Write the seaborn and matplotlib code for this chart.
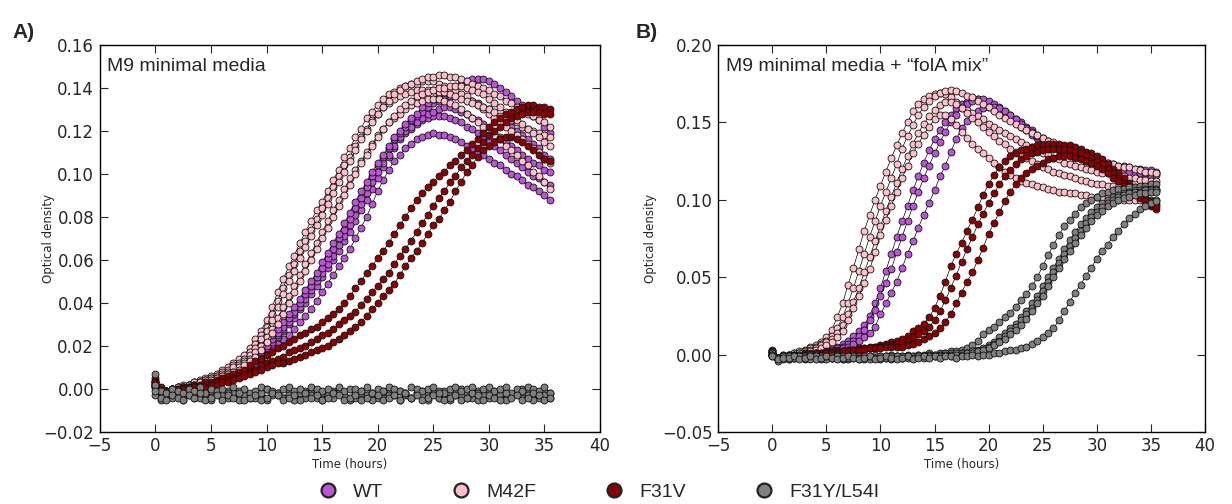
import numpy as np
import pandas as pd
import matplotlib
matplotlib.use("Agg")
import matplotlib.pyplot as plt
from matplotlib.lines import Line2D
import seaborn as sns

# ---------------- data (optical density in units of 0.001, read every 0.5 h) ----------------
hours = [i / 2 for i in range(72)]
strains = ["WT", "M42F", "F31V", "F31Y/L54I"]
colors = ["mediumorchid", "pink", "darkred", "gray"]

# Panel A: M9 minimal media
a_wt_1 = [3, -1, -2, -1, 0, 0, 1, 1, 1, 2, 2, 3,
          4, 5, 6, 7, 8, 10, 12, 14, 16, 18, 21, 23,
          25, 28, 31, 34, 37, 41, 45, 49, 53, 57, 61, 65,
          70, 75, 80, 86, 92, 97, 102, 106, 109, 112, 114, 116,
          117, 118, 119, 118, 118, 117, 116, 115, 113, 112, 110, 109,
          107, 105, 104, 102, 100, 99, 97, 95, 94, 92, 90, 88]
a_wt_2 = [2, 0, -1, 0, 0, 1, 1, 2, 2, 3, 3, 4,
          5, 6, 7, 8, 10, 12, 14, 16, 19, 21, 24, 27,
          30, 33, 37, 40, 44, 48, 52, 56, 60, 64, 69, 73,
          78, 83, 88, 93, 98, 103, 108, 112, 116, 119, 121, 123,
          125, 126, 127, 127, 127, 126, 125, 124, 122, 121, 119, 117,
          115, 113, 111, 109, 107, 105, 103, 101, 99, 98, 96, 95]
a_wt_3 = [1, -1, -2, -1, 0, 0, 1, 1, 2, 2, 3, 3,
          4, 6, 7, 9, 11, 13, 15, 18, 20, 23, 26, 29,
          33, 36, 40, 44, 48, 52, 56, 61, 65, 70, 74, 79,
          84, 89, 94, 99, 104, 108, 112, 116, 119, 122, 125, 127,
          129, 131, 133, 134, 135, 136, 136, 136, 135, 134, 133, 131,
          130, 128, 126, 124, 122, 120, 118, 116, 114, 112, 109, 107]
a_wt_4 = [2, 0, -1, 0, 1, 1, 2, 2, 3, 3, 4, 4,
          5, 7, 8, 10, 12, 14, 17, 19, 22, 25, 28, 31,
          35, 38, 42, 46, 50, 54, 59, 63, 68, 72, 77, 82,
          87, 92, 96, 101, 105, 109, 113, 117, 120, 123, 126, 128,
          131, 133, 135, 137, 139, 140, 141, 142, 143, 144, 144, 144,
          143, 142, 140, 138, 136, 134, 132, 130, 127, 125, 122, 119]
a_wt_5 = [2, -1, -1, 0, 0, 1, 1, 1, 2, 3, 3, 4,
          5, 6, 7, 8, 10, 12, 14, 17, 19, 22, 25, 28,
          31, 35, 38, 42, 46, 50, 54, 58, 62, 67, 71, 76,
          81, 86, 91, 96, 101, 105, 109, 113, 117, 120, 122, 124,
          126, 128, 129, 130, 131, 131, 130, 129, 128, 126, 125, 123,
          121, 119, 117, 115, 113, 111, 109, 107, 105, 104, 102, 101]

a_m42f_1 = [4, 0, -1, 0, 1, 2, 2, 3, 4, 5, 6, 7,
            9, 10, 12, 14, 16, 19, 23, 27, 32, 38, 45, 51,
            57, 62, 68, 73, 78, 83, 87, 92, 97, 102, 108, 112,
            117, 121, 126, 129, 132, 135, 137, 138, 140, 141, 142, 142,
            143, 143, 143, 142, 141, 140, 139, 137, 136, 134, 132, 130,
            128, 126, 124, 122, 120, 118, 116, 114, 112, 110, 107, 105]
a_m42f_2 = [3, -1, -2, 0, 0, 1, 2, 3, 3, 4, 5, 6,
            7, 8, 10, 11, 13, 16, 19, 23, 27, 32, 38, 44,
            50, 55, 61, 66, 71, 76, 81, 86, 91, 96, 101, 106,
            111, 116, 120, 124, 128, 131, 134, 137, 139, 141, 142, 143,
            144, 145, 145, 146, 146, 145, 145, 144, 143, 142, 141, 140,
            139, 137, 136, 134, 133, 131, 130, 128, 127, 125, 124, 122]
a_m42f_3 = [2, -2, -1, 0, 1, 1, 2, 2, 3, 4, 4, 5,
            6, 7, 8, 10, 12, 14, 17, 20, 24, 28, 33, 38,
            43, 48, 53, 58, 63, 68, 73, 78, 83, 88, 93, 98,
            102, 106, 110, 114, 118, 121, 124, 126, 128, 130, 132, 133,
            134, 135, 135, 135, 134, 133, 132, 130, 128, 126, 124, 122,
            120, 118, 116, 113, 111, 109, 106, 104, 101, 99, 96, 93]
a_m42f_4 = [1, -2, -2, -1, 0, 1, 1, 2, 3, 3, 4, 5,
            6, 7, 8, 9, 11, 13, 15, 18, 22, 26, 30, 35,
            40, 45, 50, 55, 60, 65, 70, 75, 80, 85, 90, 95,
            100, 105, 109, 113, 117, 121, 124, 127, 130, 132, 134, 136,
            137, 138, 139, 140, 140, 141, 141, 141, 140, 139, 138, 137,
            135, 133, 131, 129, 127, 125, 123, 121, 119, 117, 115, 113]
a_m42f_5 = [3, 0, -1, 0, 1, 1, 2, 3, 3, 4, 5, 6,
            8, 9, 11, 12, 14, 17, 21, 25, 29, 35, 41, 47,
            53, 58, 64, 69, 74, 79, 84, 89, 94, 99, 104, 108,
            113, 117, 121, 125, 128, 131, 133, 135, 136, 137, 138, 139,
            139, 139, 139, 138, 138, 137, 136, 135, 134, 133, 132, 131,
            130, 129, 127, 126, 125, 124, 122, 121, 120, 119, 118, 117]

a_f31v_1 = [5, 1, -1, 0, 0, 1, 1, 2, 2, 3, 3, 4,
            5, 6, 7, 8, 9, 11, 13, 14, 16, 17, 19, 20,
            22, 23, 25, 26, 28, 29, 31, 33, 35, 37, 40, 43,
            47, 50, 54, 57, 61, 64, 68, 72, 76, 80, 84, 88,
            91, 94, 96, 99, 101, 104, 106, 109, 111, 114, 116, 119,
            122, 124, 126, 128, 129, 130, 131, 132, 132, 131, 131, 130]
a_f31v_2 = [3, -1, -2, -1, 0, 0, 1, 1, 1, 2, 2, 3,
            3, 4, 5, 6, 7, 8, 9, 11, 12, 13, 14, 15,
            17, 18, 19, 20, 22, 23, 25, 26, 28, 30, 32, 34,
            36, 39, 42, 45, 48, 51, 54, 58, 62, 65, 69, 73,
            77, 81, 85, 89, 92, 96, 99, 103, 106, 109, 112, 115,
            118, 120, 122, 124, 126, 127, 128, 129, 129, 129, 128, 128]
a_f31v_3 = [1, -2, -2, -1, -1, 0, 0, 1, 1, 1, 2, 2,
            3, 3, 4, 5, 6, 7, 8, 9, 10, 11, 12, 12,
            13, 14, 15, 16, 17, 18, 19, 20, 22, 23, 25, 27,
            29, 31, 34, 37, 40, 43, 46, 49, 53, 57, 61, 64,
            68, 72, 76, 79, 83, 87, 92, 96, 101, 104, 108, 111,
            113, 115, 116, 117, 117, 116, 115, 113, 111, 109, 107, 106]

a_f31y_1 = [7, -2, -4, -3, -2, -3, -1, -4, -2, -3, -1, -2,
            -4, -1, -3, -2, -1, -4, -2, -3, 0, -2, -3, -4,
            -1, -2, -3, -1, -2, -4, -2, -3, -1, 0, -3, -4,
            -2, -1, -3, -2, -4, -1, -2, -3, -1, -2, -4, -2,
            -1, -3, -2, -4, -1, -2, -3, 0, -2, -4, -1, -3,
            -2, -1, -4, -2, -3, -1, 0, -2, -3, -4, -1, -2]
a_f31y_2 = [-3, -5, -3, -4, -2, -5, -3, -2, -4, -3, -5, -2,
            -3, -4, -2, -5, -3, -3, -4, -2, -5, -3, -2, -4,
            -3, -5, -2, -4, -3, -2, -5, -3, -4, -2, -3, -5,
            -4, -2, -3, -5, -2, -4, -3, -2, -5, -3, -4, -2,
            -3, -5, -2, -4, -3, -5, -2, -3, -4, -2, -5, -3,
            -4, -2, -3, -5, -3, -2, -4, -3, -5, -2, -3, -4]
a_f31y_3 = [2, -1, -2, 0, -1, -2, 0, -1, 1, -2, 0, -1,
            0, -2, 1, -1, 0, -2, -1, 1, 0, -1, -2, 0,
            1, -1, 0, -2, 1, 0, -1, 0, -2, 1, -1, 0,
            0, -1, 1, -2, 0, -1, 1, 0, -1, -2, 1, 0,
            -1, 0, 1, -1, -2, 0, 1, -1, 0, 1, -2, 0,
            1, -1, 0, 1, -2, 0, -1, 1, 0, -1, 1, -2]
a_f31y_4 = [-1, -4, -5, -3, -4, -5, -3, -4, -2, -5, -4, -3,
            -5, -3, -4, -2, -5, -4, -3, -5, -4, -2, -3, -5,
            -4, -3, -5, -2, -4, -3, -5, -4, -2, -3, -5, -4,
            -3, -5, -4, -2, -3, -5, -4, -3, -5, -2, -4, -3,
            -5, -4, -3, -2, -5, -4, -3, -5, -4, -2, -3, -5,
            -3, -4, -5, -2, -4, -3, -5, -4, -2, -3, -5, -4]

# Panel B: M9 minimal media + "folA mix"
b_wt_1 = [2, -2, 0, -1, 0, 0, 1, 1, 2, 2, 3, 4,
          5, 7, 9, 12, 15, 19, 25, 33, 43, 54, 65, 76,
          86, 96, 106, 115, 124, 132, 139, 145, 150, 155, 159, 162,
          163, 165, 165, 164, 162, 160, 158, 155, 152, 150, 147, 145,
          142, 140, 138, 136, 134, 132, 131, 129, 128, 127, 126, 125,
          124, 123, 122, 122, 121, 120, 120, 119, 119, 118, 118, 117]
b_wt_2 = [1, -3, -1, 0, 0, 1, 1, 2, 2, 3, 3, 4,
          4, 5, 7, 9, 12, 16, 22, 29, 38, 46, 55, 66,
          76, 86, 96, 105, 114, 122, 130, 137, 144, 150, 155, 159,
          162, 164, 165, 165, 164, 162, 160, 157, 155, 152, 150, 147,
          145, 142, 140, 138, 136, 135, 133, 132, 130, 129, 128, 127,
          126, 125, 124, 123, 122, 122, 121, 120, 120, 119, 119, 118]
b_wt_3 = [0, -2, -2, -1, 0, 0, 1, 1, 1, 2, 2, 3,
          3, 4, 5, 7, 9, 11, 14, 18, 26, 33, 40, 47,
          56, 65, 73, 82, 90, 98, 106, 115, 122, 131, 139, 146,
          151, 155, 157, 159, 160, 160, 159, 157, 155, 152, 149, 146,
          144, 141, 139, 136, 134, 132, 130, 129, 128, 127, 125, 124,
          123, 122, 121, 120, 120, 119, 118, 118, 117, 117, 116, 116]

b_m42f_1 = [3, -2, 0, -1, 1, 2, 3, 5, 6, 8, 11, 16,
            24, 33, 45, 56, 68, 80, 90, 100, 109, 118, 127, 135,
            143, 150, 157, 162, 165, 167, 168, 169, 168, 166, 163, 160,
            158, 156, 154, 152, 149, 147, 145, 143, 141, 139, 137, 135,
            134, 132, 130, 129, 127, 126, 124, 123, 122, 121, 120, 119,
            118, 117, 117, 116, 115, 115, 114, 114, 113, 113, 112, 112]
b_m42f_2 = [2, -3, -1, 0, 0, 1, 2, 4, 5, 7, 9, 12,
            17, 24, 33, 43, 54, 65, 76, 86, 96, 105, 114, 123,
            133, 141, 148, 155, 160, 164, 167, 169, 170, 171, 170, 169,
            167, 166, 164, 162, 160, 157, 155, 153, 151, 149, 147, 145,
            143, 142, 140, 138, 137, 135, 134, 132, 131, 130, 128, 127,
            126, 125, 124, 123, 122, 121, 121, 120, 119, 118, 118, 117]
b_m42f_3 = [1, -2, -2, 0, 1, 1, 2, 3, 4, 6, 8, 10,
            14, 19, 26, 34, 43, 53, 63, 73, 83, 93, 102, 111,
            120, 128, 136, 143, 149, 154, 158, 161, 163, 163, 162, 159,
            156, 153, 150, 147, 144, 141, 138, 136, 133, 131, 129, 127,
            125, 123, 121, 120, 118, 117, 116, 115, 114, 113, 112, 111,
            110, 110, 109, 109, 108, 108, 107, 107, 107, 106, 106, 106]
b_m42f_4 = [0, -3, -1, -2, 0, 1, 1, 2, 3, 4, 6, 8,
            11, 15, 22, 30, 38, 46, 55, 66, 77, 87, 96, 105,
            114, 122, 130, 136, 142, 147, 152, 155, 155, 152, 148, 144,
            140, 136, 133, 130, 127, 124, 121, 118, 116, 114, 112, 111,
            110, 109, 108, 107, 106, 105, 105, 104, 104, 103, 103, 102,
            102, 101, 101, 101, 100, 100, 100, 100, 100, 100, 100, 100]

b_f31v_1 = [2, -2, -1, 0, -1, 0, 1, 0, 1, 1, 2, 1,
            2, 2, 3, 3, 4, 4, 5, 5, 6, 7, 8, 9,
            10, 12, 15, 17, 20, 24, 30, 38, 47, 57, 65, 72,
            80, 87, 95, 103, 110, 116, 121, 125, 128, 130, 132, 133,
            134, 135, 135, 136, 136, 136, 135, 135, 134, 133, 131, 130,
            128, 126, 123, 120, 117, 114, 111, 108, 105, 102, 99, 97]
b_f31v_2 = [1, -3, -1, -1, 0, 0, 0, 1, 1, 1, 1, 2,
            2, 2, 3, 3, 3, 4, 4, 5, 5, 6, 6, 7,
            7, 9, 11, 13, 15, 18, 22, 28, 35, 43, 51, 60,
            68, 76, 84, 91, 98, 104, 110, 115, 119, 123, 126, 128,
            130, 131, 132, 133, 133, 133, 133, 132, 131, 130, 129, 127,
            125, 123, 120, 117, 114, 111, 108, 105, 102, 99, 96, 94]
b_f31v_3 = [0, -2, -2, -1, 0, -1, 0, 0, 1, 0, 1, 1,
            1, 2, 2, 3, 3, 3, 4, 4, 4, 5, 5, 5,
            5, 6, 7, 8, 10, 12, 14, 17, 21, 26, 33, 40,
            47, 53, 61, 69, 78, 85, 92, 99, 105, 110, 114, 117,
            120, 122, 124, 126, 127, 128, 128, 128, 127, 126, 125, 124,
            122, 120, 117, 114, 112, 109, 106, 104, 101, 99, 97, 96]

b_f31y_1 = [1, -3, -2, -1, -2, 0, -1, -2, 0, -1, -2, -1,
            0, -1, -2, 0, -1, -2, -1, 0, -2, -1, 0, -1,
            -1, 0, -1, 0, 0, 1, 0, 1, 1, 2, 2, 3,
            4, 6, 9, 13, 16, 18, 21, 24, 27, 31, 35, 39,
            44, 50, 57, 64, 71, 77, 83, 87, 91, 95, 98, 100,
            102, 104, 105, 106, 107, 107, 108, 108, 109, 109, 110, 110]
b_f31y_2 = [-1, -4, -2, -3, -1, -2, -3, -1, -2, -3, -2, -1,
            -2, -3, -1, -2, -3, -1, -2, -2, -3, -1, -2, -1,
            -2, -1, -2, -1, -1, 0, -1, 0, 0, 1, 0, 1,
            1, 2, 3, 4, 6, 8, 11, 14, 17, 20, 24, 28,
            33, 38, 44, 50, 56, 62, 68, 74, 79, 84, 88, 92,
            95, 98, 100, 102, 103, 104, 105, 106, 106, 107, 107, 107]
b_f31y_3 = [0, -2, -1, -3, -2, -1, -2, 0, -2, -1, -3, -2,
            -1, -2, -3, -1, -2, -1, -3, -2, -1, -2, -1, -2,
            -1, -2, -1, 0, -1, 0, -1, 0, 1, 0, 1, 1,
            1, 2, 2, 3, 5, 7, 9, 12, 15, 18, 22, 26,
            30, 35, 41, 47, 53, 59, 65, 70, 75, 80, 85, 89,
            92, 95, 98, 100, 102, 103, 104, 105, 105, 106, 106, 106]
b_f31y_4 = [0, -2, -3, -1, -2, -1, -2, -3, -1, -2, -1, -2,
            -1, -3, -2, -1, -2, -3, -1, -2, -1, -2, -3, -1,
            -2, -1, -2, -1, -2, -1, 0, -1, 0, -1, 0, 0,
            1, 1, 2, 3, 4, 6, 8, 10, 13, 16, 19, 23,
            28, 33, 38, 44, 50, 56, 62, 67, 72, 77, 82, 86,
            90, 93, 96, 98, 100, 101, 102, 103, 104, 104, 105, 105]
b_f31y_5 = [-1, -3, -2, -2, -1, -3, -2, -1, -3, -2, -1, -2,
            -3, -2, -1, -2, -3, -2, -1, -3, -2, -1, -2, -3,
            -2, -1, -3, -2, -1, -2, -1, -2, -1, -1, -2, -1,
            -1, 0, -1, 0, 0, 1, 1, 2, 3, 3, 4, 5,
            7, 9, 11, 14, 17, 22, 28, 34, 40, 45, 51, 56,
            62, 67, 71, 76, 80, 84, 88, 91, 94, 96, 98, 99]

panel_a = {"WT": [a_wt_1, a_wt_2, a_wt_5, a_wt_3, a_wt_4],
           "M42F": [a_m42f_1, a_m42f_5, a_m42f_2, a_m42f_3, a_m42f_4],
           "F31V": [a_f31v_1, a_f31v_2, a_f31v_3],
           "F31Y/L54I": [a_f31y_1, a_f31y_2, a_f31y_3, a_f31y_4]}
panel_b = {"WT": [b_wt_1, b_wt_2, b_wt_3],
           "M42F": [b_m42f_1, b_m42f_2, b_m42f_3, b_m42f_4],
           "F31V": [b_f31v_1, b_f31v_2, b_f31v_3],
           "F31Y/L54I": [b_f31y_1, b_f31y_2, b_f31y_3, b_f31y_4, b_f31y_5]}

y_ticks_a = [-0.02, 0.00, 0.02, 0.04, 0.06, 0.08, 0.10, 0.12, 0.14, 0.16]
y_ticks_b = [-0.05, 0.00, 0.05, 0.10, 0.15, 0.20]
x_ticks = [-5, 0, 5, 10, 15, 20, 25, 30, 35, 40]


def to_frame(panel):
    rows = []
    for strain in strains:
        for r, vals in enumerate(panel[strain]):
            for t, v in zip(hours, vals):
                rows.append((t, v / 1000.0, strain, f"{strain}-{r}"))
    return pd.DataFrame(rows, columns=["time", "od", "strain", "rep"])


sns.set_style("ticks")
plt.rcParams["font.family"] = ["DejaVu Sans"]
plt.rcParams["axes.unicode_minus"] = True

fig = plt.figure(figsize=(12.32, 5.04), dpi=100)
ax_a = fig.add_axes([0.081, 0.143, 0.406, 0.768])
ax_b = fig.add_axes([0.583, 0.143, 0.395, 0.768])
palette = dict(zip(strains, colors))


def draw(ax, panel, yticks, title, tag, tag_x, ylab_x):
    df = to_frame(panel)
    sns.lineplot(data=df, x="time", y="od", hue="strain", hue_order=strains,
                 units="rep", estimator=None, sort=False, palette=palette,
                 marker="o", markersize=5.0, markeredgecolor="#111111",
                 markeredgewidth=0.6, linewidth=0.5, legend=False, ax=ax)
    for ln in ax.lines:
        fc = ln.get_color()
        ln.set_markerfacecolor(fc)
        ln.set_color("black")
    ax.set_xlim(-5, 40)
    ax.set_ylim(yticks[0], yticks[-1])
    ax.set_xticks(x_ticks)
    ax.set_yticks(yticks)
    ax.set_yticklabels([f"{v:.2f}".replace("-", "\u2212") for v in yticks])
    ax.set_xticklabels([str(v).replace("-", "\u2212") for v in x_ticks])
    ax.tick_params(direction="in", top=True, right=True, length=6, width=0.8,
                   labelsize=12, pad=4)
    for s in ax.spines.values():
        s.set_linewidth(1.0)
        s.set_color("black")
    ax.set_xlabel("Time (hours)", fontsize=8.5, labelpad=2)
    ax.set_ylabel("Optical density", fontsize=8.5)
    ax.yaxis.set_label_coords(ylab_x, 0.5)
    ax.text(0.015, 0.965, title, transform=ax.transAxes, ha="left", va="top",
            fontsize=14, family=["Liberation Sans", "DejaVu Sans"])
    fig.text(tag_x, 0.955, tag, ha="left", va="top", fontsize=15,
             fontweight="bold", family=["Liberation Sans", "DejaVu Sans"])


draw(ax_a, panel_a, y_ticks_a, "M9 minimal media", "A)", 0.010, -0.09)
draw(ax_b, panel_b, y_ticks_b, "M9 minimal media + \u201cfolA mix\u201d", "B)", 0.516, -0.125)

handles = [Line2D([], [], linestyle="none", marker="o", markersize=10,
                  markerfacecolor=c, markeredgecolor="#222222", markeredgewidth=1.6)
           for c in colors]
fig.legend(handles, strains, loc="lower center", bbox_to_anchor=(0.482, -0.028),
           ncol=4, frameon=False, handletextpad=0.3, columnspacing=3.0,
           prop={"family": ["Liberation Sans", "DejaVu Sans"], "size": 14})

fig.savefig("out.png", dpi=100)
